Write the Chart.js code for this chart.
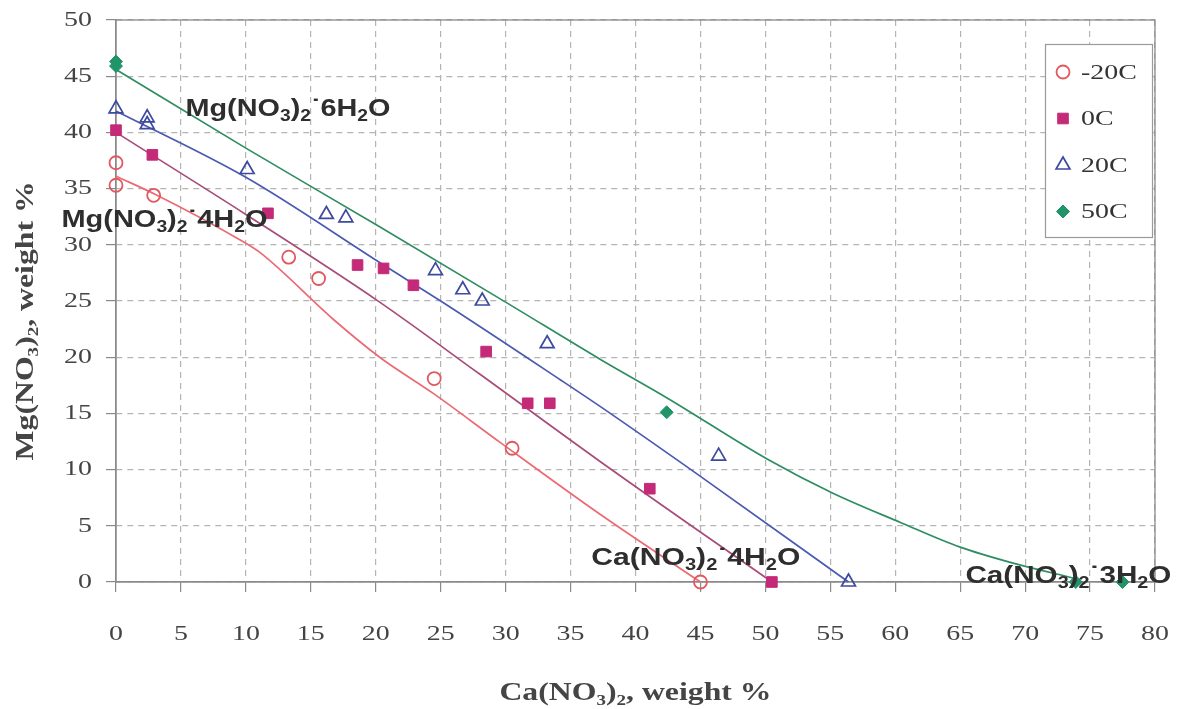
<!DOCTYPE html>
<html><head><meta charset="utf-8">
<script src="https://cdn.jsdelivr.net/npm/chart.js@4/dist/chart.umd.min.js"></script>
<style>html,body{margin:0;padding:0;background:#fff;}#wrap{width:1180px;height:709px;}</style>
</head><body><div id="wrap"><canvas id="c" width="1180" height="709"></canvas></div>
<script>
// ---- data ----
const xTickValues = [0,5,10,15,20,25,30,35,40,45,50,55,60,65,70,75,80];
const yTickValues = [0,5,10,15,20,25,30,35,40,45,50];
const seriesNames = ['-20C','0C','20C','50C'];

const m20X = [0,0,2.9,13.3,15.6,24.5,30.5,45.0];
const m20Y = [37.3,35.3,34.4,28.9,27.0,18.1,11.9,0];
const t0X  = [0,2.8,11.7,18.6,20.6,22.9,28.5,31.7,33.4,41.1,50.5];
const t0Y  = [40.2,38.0,32.8,28.2,27.9,26.4,20.5,15.9,15.9,8.3,0];
const t20X = [0,2.4,2.4,10.1,16.2,17.7,24.6,26.7,28.2,33.2,46.4,56.4];
const t20Y = [42.1,41.3,40.7,36.7,32.7,32.4,27.7,26.0,25.0,21.2,11.2,0];
const t50X = [0,0,42.4,73.9,77.5];
const t50Y = [46.3,45.9,15.1,0,0];

// fitted solubility curves
const fitM20X = [0,3,9.6,11.1,16.7,20.3,24.4,29.6,37.3,45.0];
const fitM20Y = [36.1,34.5,30.4,29.3,23.4,20.0,16.8,12.4,6.0,0];
const fit0X   = [0,10,20.3,28,37.3,50.5];
const fit0Y   = [40.0,32.7,24.9,18.5,10.7,0];
const fit20X  = [0,10,20.6,25,34.2,37.3,45,56.4];
const fit20Y  = [41.9,36.0,28.2,25.0,18.0,15.6,9.4,0];
const fit50X  = [0,10,20.3,30,37.3,42.4,50.2,55.2,60.4,65,69,73.9];
const fit50Y  = [45.6,38.6,31.6,24.9,19.8,16.4,10.9,7.9,5.3,3.1,1.7,0.3];

const phaseLabels = ['Mg(NO_3)_2^6H_2O','Mg(NO_3)_2^4H_2O','Ca(NO_3)_2^4H_2O','Ca(NO_3)_2^3H_2O'];

function pts(xs, ys){ return xs.map((x,i)=>({x:x, y:ys[i]})); }

const C = {
  red:'#e2585f', redLine:'#ec6a74',
  mag:'#c42a78', magLine:'#a84c78',
  blue:'#3d4a9e', blueLine:'#4a5ab2',
  green:'#21946a', greenLine:'#2e8e62'
};
const SERIF = '"Liberation Serif", "Times New Roman", serif';
const STRETCH = 1.27; // the scanned original has horizontally widened serif text

const marker = (label, xs, ys, style, col, fill, r, bw) => ({
  type:'scatter', label, data: pts(xs,ys), inLegend:true, order:0, clip:false,
  pointStyle: style, pointRadius:r, pointHoverRadius:r,
  pointBackgroundColor: fill, pointBorderColor: col, pointBorderWidth: bw,
  backgroundColor: fill, borderColor: col, showLine:false
});
const fitLine = (xs, ys, col) => ({
  type:'line', data: pts(xs,ys), order:1, clip:false,
  borderColor: col, borderWidth:1.7, pointRadius:0, fill:false,
  cubicInterpolationMode:'monotone', showLine:true
});

// ---- plugins ----
const wideSerif = {
  id:'wideSerif',
  beforeInit(chart){
    const ctx = chart.ctx;
    if (ctx.__wide) return;
    const orig = ctx.fillText;
    ctx.fillText = function(t, x, y, mw){
      if (this.font.indexOf('Liberation Serif') >= 0) {
        this.save(); this.translate(x, y); this.scale(STRETCH, 1);
        if (mw !== undefined) orig.call(this, t, 0, 0, mw / STRETCH); else orig.call(this, t, 0, 0);
        this.restore();
      } else {
        if (mw !== undefined) orig.call(this, t, x, y, mw); else orig.call(this, t, x, y);
      }
    };
    ctx.__wide = true;
  }
};

const frame = {
  id:'frame',
  beforeDatasetsDraw(chart){
    const {ctx, chartArea:a} = chart;
    ctx.save(); ctx.strokeStyle='#8a8a8a'; ctx.lineWidth=1.3;
    ctx.strokeRect(a.left, a.top, a.right-a.left, a.bottom-a.top);
    ctx.restore();
  }
};

function drawChem(ctx, str, x, y, size, targetW){
  const segs=[];
  for(let i=0;i<str.length;i++){
    const ch=str[i];
    if(ch==='_'){ segs.push({t:str[++i], k:'s'}); }
    else if(ch==='^'){ segs.push({t:'\u02D9', k:'d'}); }
    else { segs.push({t:ch, k:'n'}); }
  }
  const fN = 'bold '+size+'px "Liberation Sans", Arial, sans-serif';
  const fS = 'bold '+Math.round(size*0.66)+'px "Liberation Sans", Arial, sans-serif';
  let w=0;
  segs.forEach(s=>{ ctx.font = s.k==='s'?fS:fN; s.w = ctx.measureText(s.t).width; w+=s.w; });
  const k = targetW ? targetW/w : 1;
  ctx.save(); ctx.translate(x,y); ctx.scale(k,1);
  let cx=0;
  segs.forEach(s=>{
    ctx.font = s.k==='s'?fS:fN;
    const dy = s.k==='s' ? size*0.22 : 0;
    ctx.fillText(s.t, cx, dy); cx+=s.w;
  });
  ctx.restore();
}

const phasePlugin = {
  id:'phases',
  afterDatasetsDraw(chart){
    const {ctx, scales:{x,y}} = chart;
    const pos = [[5.35,41.5,205],[-4.2,31.6,206],[36.6,1.5,209],[65.4,-0.1,206]];
    ctx.save(); ctx.fillStyle='#2e2e2e'; ctx.textBaseline='alphabetic'; ctx.textAlign='left';
    phaseLabels.forEach((s,i)=>{
      drawChem(ctx, s, x.getPixelForValue(pos[i][0]), y.getPixelForValue(pos[i][1]), 24, pos[i][2]);
    });
    ctx.restore();
  }
};

const boxLegend = {
  id:'boxLegend',
  afterDraw(chart){
    const ctx = chart.ctx;
    const b = {x:1045, y:44, w:107, h:193};
    ctx.save();
    ctx.fillStyle='#ffffff'; ctx.fillRect(b.x,b.y,b.w,b.h);
    ctx.strokeStyle='#9a9a9a'; ctx.lineWidth=1.2; ctx.strokeRect(b.x+0.5,b.y+0.5,b.w,b.h);
    const items = chart.data.datasets.filter(d=>d.inLegend);
    items.forEach((ds,i)=>{
      const cy = b.y + 28 + i*46.5;
      ctx.fillStyle = ds.pointBackgroundColor; ctx.strokeStyle = ds.pointBorderColor;
      ctx.lineWidth = ds.pointBorderWidth;
      Chart.helpers.drawPoint(ctx, {pointStyle: ds.pointStyle, radius: ds.pointRadius, borderWidth: ds.pointBorderWidth, rotation:0}, 1063, cy);
      ctx.fillStyle='#333'; ctx.font='22px ' + SERIF;
      ctx.textBaseline='middle'; ctx.textAlign='left';
      ctx.fillText(ds.label, 1081, cy+1);
    });
    ctx.restore();
  }
};

// ---- chart ----
const tickFont = {family:SERIF, size:22};
const titleFont = {family:SERIF, size:25, weight:'bold', lineHeight:1.2};

new Chart(document.getElementById('c'), {
  data: {
    datasets: [
      marker(seriesNames[0], m20X, m20Y, 'circle', C.red, 'rgba(255,255,255,0)', 6.5, 1.8),
      marker(seriesNames[1], t0X, t0Y, 'rect', C.mag, C.mag, 7.5, 1),
      marker(seriesNames[2], t20X, t20Y, 'triangle', C.blue, 'rgba(255,255,255,0)', 8, 1.7),
      marker(seriesNames[3], t50X, t50Y, 'rectRot', C.green, C.green, 6.5, 1),
      fitLine(fitM20X, fitM20Y, C.redLine),
      fitLine(fit0X, fit0Y, C.magLine),
      fitLine(fit20X, fit20Y, C.blueLine),
      fitLine(fit50X, fit50Y, C.greenLine)
    ]
  },
  options: {
    responsive:false, animation:false, devicePixelRatio:1,
    layout:{padding:{top:20, right:25, left:0, bottom:0}},
    plugins:{legend:{display:false}, tooltip:{enabled:false}},
    scales:{
      x:{
        type:'linear', min:0, max:80,
        afterBuildTicks: s => { s.ticks = xTickValues.map(v=>({value:v})); },
        afterFit: s => { s.height = 127; s.paddingLeft = 0; s.paddingRight = 0; },
        ticks:{font:tickFont, color:'#444', padding:29, maxRotation:0, autoSkip:false},
        grid:{color:'#b4b4b4', lineWidth:1.2, tickLength:10, tickColor:'#8a8a8a', tickBorderDash:[]},
        border:{color:'#8a8a8a', width:1.3, dash:[6,5]},
        title:{display:true, text:'Ca(NO\u2083)\u2082, weight %', font:titleFont, color:'#454545', padding:{top:0,bottom:0}}
      },
      y:{
        type:'linear', min:0, max:50,
        afterBuildTicks: s => { s.ticks = yTickValues.map(v=>({value:v})); },
        afterFit: s => { s.width = 116; s.paddingTop = 0; s.paddingBottom = 0; },
        ticks:{font:tickFont, color:'#444', padding:14, autoSkip:false},
        grid:{color:'#b4b4b4', lineWidth:1.2, tickLength:10, tickColor:'#8a8a8a', tickBorderDash:[]},
        border:{color:'#8a8a8a', width:1.3, dash:[6,5]},
        title:{display:true, text:'Mg(NO\u2083)\u2082, weight %     ', font:titleFont, color:'#454545', padding:{top:12,bottom:0}}
      }
    }
  },
  plugins:[wideSerif, frame, phasePlugin, boxLegend]
});
</script>
</body></html>
